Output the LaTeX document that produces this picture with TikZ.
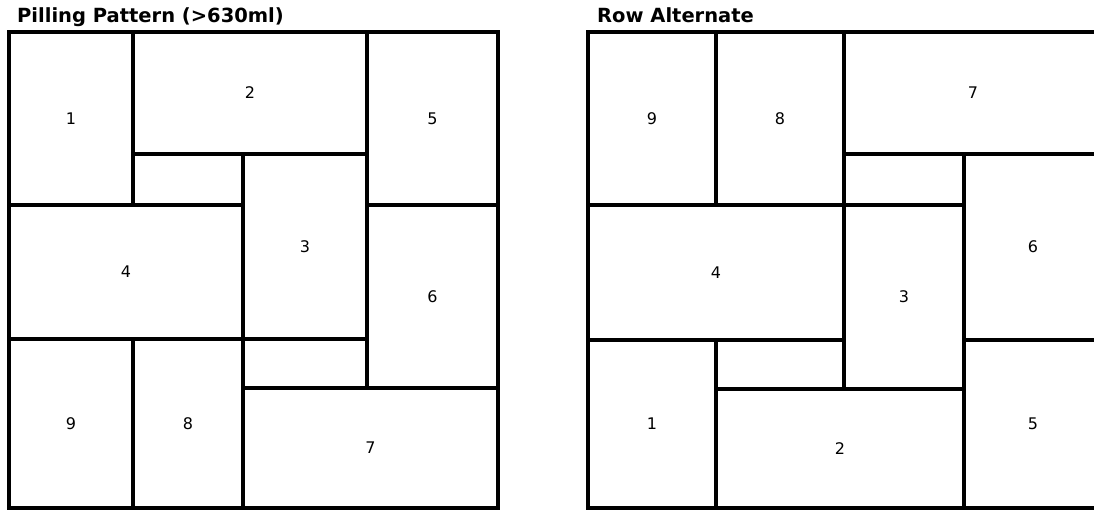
\documentclass[tikz,border=0pt]{standalone}
\usepackage{fontspec}
\setmainfont{DejaVu Sans}
\usepackage{tikz}

\begin{document}
\begin{tikzpicture}[
    x=1pt, y=-1pt,
    cell/.style={
        rectangle,
        draw=black,
        line width=3.2pt,
        inner sep=0pt,
        outer sep=0pt,
        font=\fontsize{16}{16}\selectfont
    },
    panel_title/.style={
        anchor=base west,
        inner sep=0pt,
        font=\fontsize{19.5}{19.5}\selectfont\bfseries
    }
]

\useasboundingbox (0,0) rectangle (1094,510);
\clip (0,0) rectangle (1094,510);

% Titles
\node[panel_title] (titleL) at (17,23) {Pilling Pattern (>630ml)};
\node[panel_title] (titleR) at (597,23) {Row Alternate};

% Left panel: pilling pattern
\node[cell, minimum width=124pt, minimum height=173pt] (L1) at (71,118.5) {1};
\node[cell, minimum width=234pt, minimum height=122pt] (L2) at (250,93) {2};
\node[cell, minimum width=131pt, minimum height=173pt] (L5) at (432.5,118.5) {5};
\node[cell, minimum width=124pt, minimum height=185pt] (L3) at (305,246.5) {3};
\node[cell, minimum width=234pt, minimum height=134pt] (L4) at (126,272) {4};
\node[cell, minimum width=131pt, minimum height=183pt] (L6) at (432.5,296.5) {6};
\node[cell, minimum width=124pt, minimum height=169pt] (L9) at (71,423.5) {9};
\node[cell, minimum width=110pt, minimum height=169pt] (L8) at (188,423.5) {8};
\node[cell, minimum width=255pt, minimum height=120pt] (L7) at (370.5,448) {7};

% Right panel: row alternate
\node[cell, minimum width=128pt, minimum height=173pt] (R9) at (652,118.5) {9};
\node[cell, minimum width=128pt, minimum height=173pt] (R8) at (780,118.5) {8};
\node[cell, minimum width=258pt, minimum height=122pt] (R7) at (973,93) {7};
\node[cell, minimum width=138pt, minimum height=186pt] (R6) at (1033,247) {6};
\node[cell, minimum width=256pt, minimum height=135pt] (R4) at (716,272.5) {4};
\node[cell, minimum width=120pt, minimum height=184pt] (R3) at (904,297) {3};
\node[cell, minimum width=128pt, minimum height=168pt] (R1) at (652,424) {1};
\node[cell, minimum width=248pt, minimum height=119pt] (R2) at (840,448.5) {2};
\node[cell, minimum width=138pt, minimum height=168pt] (R5) at (1033,424) {5};

\end{tikzpicture}
\end{document}
